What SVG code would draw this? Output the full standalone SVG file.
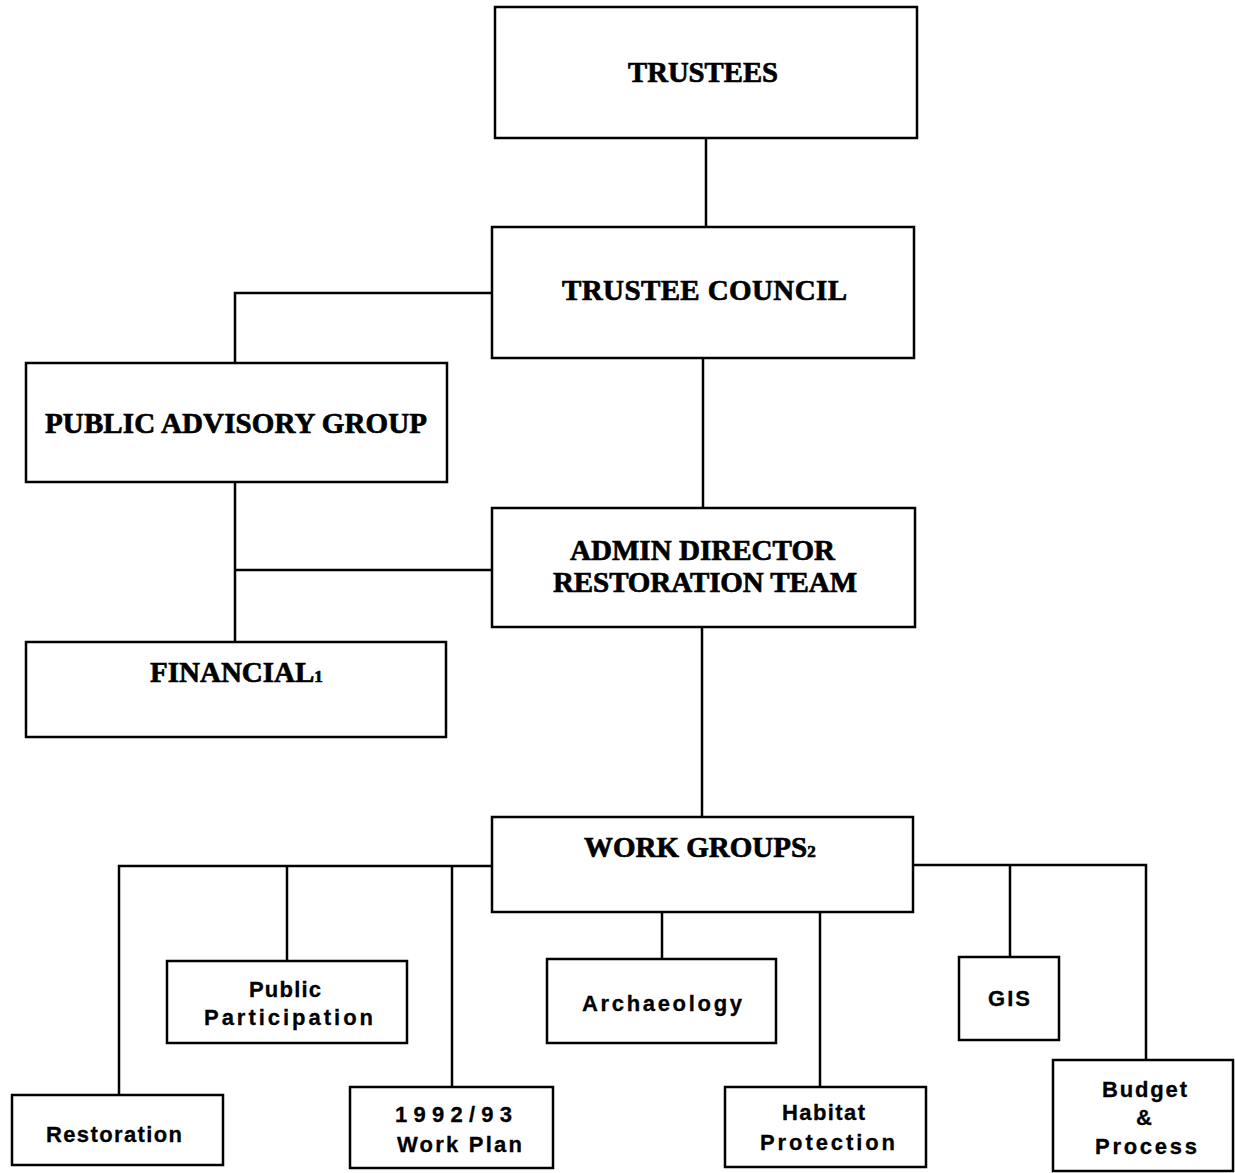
<svg xmlns="http://www.w3.org/2000/svg" width="1235" height="1173" viewBox="0 0 1235 1173">
<style>
.box{fill:#fff;stroke:#000;stroke-width:2.5}
.con{fill:none;stroke:#000;stroke-width:2.5}
.t{font-family:"Liberation Serif","Times New Roman",serif;font-weight:bold;font-size:29px;fill:#000;stroke:#000;stroke-width:0.7}
.sub{font-size:17px}
.s{font-family:"Liberation Sans",Arial,Helvetica,sans-serif;font-weight:bold;font-size:22px;fill:#000;stroke:#000;stroke-width:0.3}
</style>
<rect width="1235" height="1173" fill="#fff"/>
<g id="connectors">
<path class="con" d="M706 138V227"/>
<path class="con" d="M703 358V508"/>
<path class="con" d="M492 293H235V363"/>
<path class="con" d="M235 482V642"/>
<path class="con" d="M235 570H492"/>
<path class="con" d="M702 627V817"/>
<path class="con" d="M492 866H119V1095"/>
<path class="con" d="M287 866V961"/>
<path class="con" d="M452 866V1087"/>
<path class="con" d="M662 912V959"/>
<path class="con" d="M820 912V1087"/>
<path class="con" d="M913 865H1146V1060"/>
<path class="con" d="M1010 865V957"/>
</g>
<g id="trustees">
<rect class="box" x="495" y="7" width="422" height="131"/>
<text class="t" x="628" y="82" textLength="150" lengthAdjust="spacingAndGlyphs">TRUSTEES</text>
</g>
<g id="trustee-council">
<rect class="box" x="492" y="227" width="422" height="131"/>
<text class="t" x="562" y="300" textLength="285" lengthAdjust="spacing">TRUSTEE  COUNCIL</text>
</g>
<g id="public-advisory-group">
<rect class="box" x="26" y="363" width="421" height="119"/>
<text class="t" x="45" y="433" textLength="382" lengthAdjust="spacing">PUBLIC ADVISORY GROUP</text>
</g>
<g id="admin-director">
<rect class="box" x="492" y="508" width="423" height="119"/>
<text class="t" x="570" y="560" textLength="265" lengthAdjust="spacing">ADMIN DIRECTOR</text>
<text class="t" x="553" y="592" textLength="304" lengthAdjust="spacing">RESTORATION TEAM</text>
</g>
<g id="financial">
<rect class="box" x="26" y="642" width="420" height="95"/>
<text class="t" x="150" y="682">FINANCIAL<tspan class="sub">1</tspan></text>
</g>
<g id="work-groups">
<rect class="box" x="492" y="817" width="421" height="95"/>
<text class="t" x="584" y="857">WORK GROUPS<tspan class="sub">2</tspan></text>
</g>
<g id="restoration">
<rect class="box" x="12" y="1095" width="211" height="70"/>
<text class="s" x="46" y="1142" textLength="136" lengthAdjust="spacing">Restoration</text>
</g>
<g id="public-participation">
<rect class="box" x="167" y="961" width="240" height="82"/>
<text class="s" x="249" y="997" textLength="72" lengthAdjust="spacing">Public</text>
<text class="s" x="204" y="1025" textLength="169" lengthAdjust="spacing">Participation</text>
</g>
<g id="work-plan">
<rect class="box" x="350" y="1087" width="203" height="81"/>
<text class="s" x="395" y="1122" textLength="117" lengthAdjust="spacing">1992/93</text>
<text class="s" x="397" y="1152" textLength="125" lengthAdjust="spacing">Work Plan</text>
</g>
<g id="archaeology">
<rect class="box" x="547" y="959" width="229" height="84"/>
<text class="s" x="582" y="1011" textLength="160" lengthAdjust="spacing">Archaeology</text>
</g>
<g id="habitat-protection">
<rect class="box" x="725" y="1087" width="201" height="80"/>
<text class="s" x="782" y="1120" textLength="83" lengthAdjust="spacing">Habitat</text>
<text class="s" x="760" y="1150" textLength="135" lengthAdjust="spacing">Protection</text>
</g>
<g id="gis">
<rect class="box" x="959" y="957" width="100" height="83"/>
<text class="s" x="988" y="1006" textLength="42" lengthAdjust="spacing">GIS</text>
</g>
<g id="budget-process">
<rect class="box" x="1053" y="1060" width="180" height="111"/>
<text class="s" x="1102" y="1097" textLength="85" lengthAdjust="spacing">Budget</text>
<text class="s" x="1136" y="1125">&amp;</text>
<text class="s" x="1095" y="1154" textLength="102" lengthAdjust="spacing">Process</text>
</g>
</svg>
